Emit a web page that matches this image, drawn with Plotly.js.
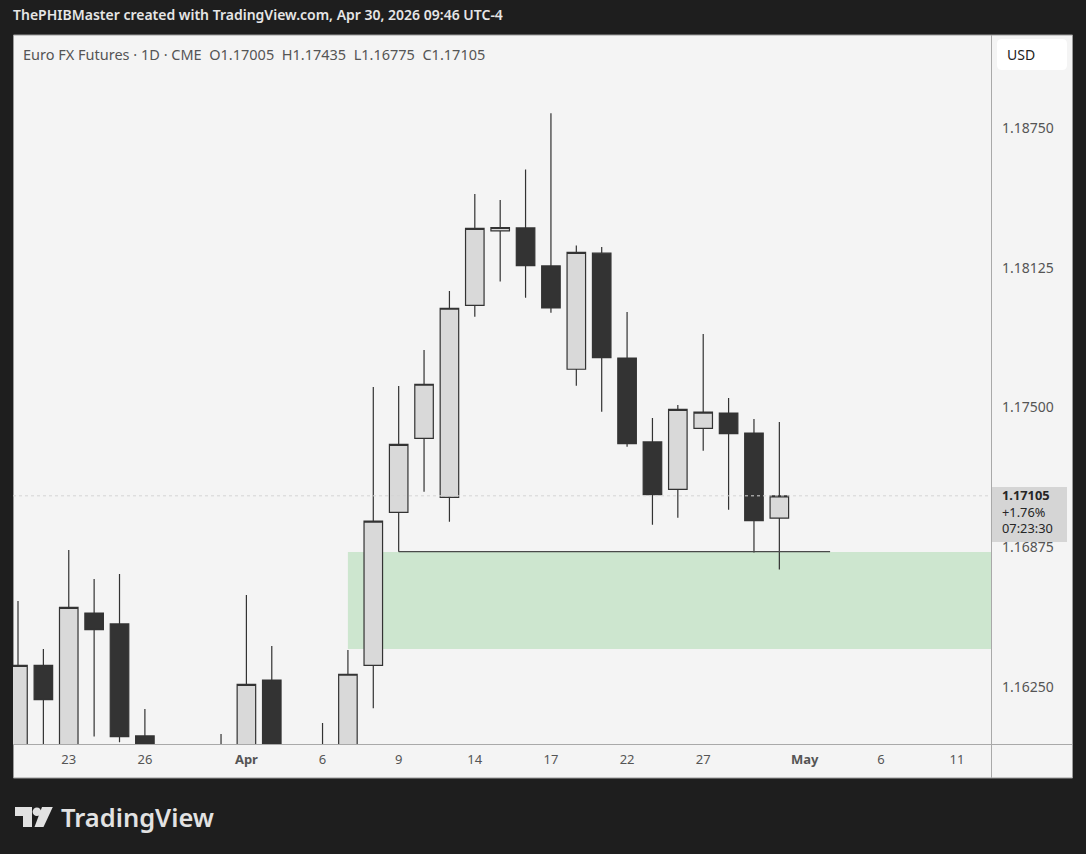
<!DOCTYPE html>
<html>
<head>
<meta charset="utf-8">
<script src="https://cdn.plot.ly/plotly-3.0.1.min.js"></script>
<style>
  html, body { margin: 0; padding: 0; background: #1e1e1e; }
  #chart { width: 1086px; height: 854px; }
</style>
</head>
<body>
<div id="chart"></div>
<script>
// ---------------- DATA ----------------
const dates = ['2026-03-19','2026-03-20','2026-03-23','2026-03-24','2026-03-25','2026-03-26','2026-03-27',
  '2026-03-30','2026-03-31','2026-04-01','2026-04-02','2026-04-03','2026-04-06','2026-04-07','2026-04-08',
  '2026-04-09','2026-04-10','2026-04-13','2026-04-14','2026-04-15','2026-04-16','2026-04-17','2026-04-20',
  '2026-04-21','2026-04-22','2026-04-23','2026-04-24','2026-04-27','2026-04-28','2026-04-29','2026-04-30'];
const openP  = [1.15880,1.16347,1.15920,1.16581,1.16532,1.16031,1.15820,1.15680,1.15800,1.15930,1.16281,1.15800,1.15900,1.15970,1.16347,
  1.17031,1.17362,1.17098,1.17957,1.18290,1.18303,1.18133,1.17671,1.18190,1.17721,1.17346,1.17134,1.17407,1.17475,1.17386,1.17005];
const highP  = [1.16635,1.16420,1.16863,1.16733,1.16755,1.16152,1.15960,1.15900,1.16040,1.16661,1.16433,1.15960,1.16089,1.16415,1.17592,
  1.17596,1.17757,1.18021,1.18455,1.18428,1.18565,1.18816,1.18225,1.18218,1.17927,1.17453,1.17511,1.17829,1.17542,1.17449,1.17435];
const lowP   = [1.15750,1.15850,1.15850,1.16028,1.16003,1.15700,1.15550,1.15500,1.15620,1.15850,1.15650,1.15720,1.15780,1.15900,1.16155,
  1.16855,1.17123,1.16989,1.17906,1.18063,1.17991,1.17924,1.17597,1.17481,1.17325,1.16976,1.17007,1.17307,1.17043,1.16851,1.16775];
const closeP = [1.16347,1.16193,1.16606,1.16506,1.16028,1.15820,1.15680,1.15800,1.15930,1.16262,1.15800,1.15900,1.15970,1.16307,1.16992,
  1.17335,1.17604,1.17944,1.18301,1.18305,1.18134,1.17946,1.18194,1.17723,1.17338,1.17110,1.17492,1.17479,1.17383,1.16994,1.17105];

const tickDates  = ['2026-03-23','2026-03-26','2026-04-01','2026-04-06','2026-04-09','2026-04-14','2026-04-17',
  '2026-04-22','2026-04-27','2026-05-01','2026-05-06','2026-05-11'];
const tickLabels = ['23','26','<b>Apr</b>','6','9','14','17','22','27','<b>May</b>','6','11'];

const priceTicks  = [1.16250, 1.16875, 1.17500, 1.18125, 1.18750];
const priceLabels = ['1.16250','1.16875','1.17500','1.18125','1.18750'];

// demand zone and support level
const zoneStartDate = '2026-04-07';
const zoneEndDate   = '2026-05-29';
const zoneTop = 1.16854, zoneBottom = 1.16420;
const levelStartDate = '2026-04-09', levelEndDate = '2026-05-04';
const levelPrice = 1.16855;
const lastPrice = 1.17105;

const headerText = 'ThePHIBMaster created with TradingView.com, Apr 30, 2026 09:46 UTC-4';
const legendText = 'Euro FX Futures · 1D · CME\u00a0\u00a0O1.17005\u00a0\u00a0H1.17435\u00a0\u00a0L1.16775\u00a0\u00a0C1.17105';
const priceBoxLines = ['1.17105', '+1.76%', '07:23:30'];

// ---------------- HELPERS ----------------
const baseDate = dates[0];
function tradingIndex(ds) {
  const a = new Date(baseDate + 'T00:00:00Z'), b = new Date(ds + 'T00:00:00Z');
  let n = 0, d = new Date(a);
  while (d < b) { d.setUTCDate(d.getUTCDate() + 1); const w = d.getUTCDay(); if (w !== 0 && w !== 6) n++; }
  return n;
}
const xIdx = dates.map(tradingIndex);
const tickIdx = tickDates.map(tradingIndex);

// pixel -> paper conversion for layout decoration
const L = 13, R = 991, T = 35, B = 744;
const px = x => (x - L) / (R - L);
const py = y => (B - y) / (B - T);

const FONT = 'Noto Sans, Open Sans, sans-serif';

const trace = {
  type: 'candlestick',
  x: xIdx, open: openP, high: highP, low: lowP, close: closeP,
  increasing: { line: { color: '#333333', width: 1.2 }, fillcolor: '#d9d9d9' },
  decreasing: { line: { color: '#333333', width: 1.2 }, fillcolor: '#333333' },
  whiskerwidth: 0,
  hoverinfo: 'skip'
};

function roundRect(x0, y0, x1, y1, r) {
  const X0 = px(x0), X1 = px(x1), Y0 = py(y0), Y1 = py(y1);
  const rx = r / (R - L), ry = r / (B - T);
  return `M ${X0 + rx},${Y0} L ${X1 - rx},${Y0} Q ${X1},${Y0} ${X1},${Y0 - ry} L ${X1},${Y1 + ry} Q ${X1},${Y1} ${X1 - rx},${Y1} L ${X0 + rx},${Y1} Q ${X0},${Y1} ${X0},${Y1 + ry} L ${X0},${Y0 - ry} Q ${X0},${Y0} ${X0 + rx},${Y0} Z`;
}
function poly(pts) {
  return 'M ' + pts.map(p => px(p[0]) + ',' + py(p[1])).join(' L ') + ' Z';
}

const shapes = [
  // chart frame
  { type: 'rect', xref: 'paper', yref: 'paper', x0: px(13.5), x1: px(1072.5), y0: py(778), y1: py(35),
    fillcolor: '#f4f4f4', line: { color: '#9b9b9b', width: 1 }, layer: 'below' },
  // separators
  { type: 'line', xref: 'paper', yref: 'paper', x0: px(991.5), x1: px(991.5), y0: py(35), y1: py(778),
    line: { color: '#a9a9a9', width: 1 }, layer: 'below' },
  { type: 'line', xref: 'paper', yref: 'paper', x0: px(13), x1: px(1072), y0: py(744.5), y1: py(744.5),
    line: { color: '#a9a9a9', width: 1 }, layer: 'below' },
  // demand zone
  { type: 'rect', xref: 'x', yref: 'y', x0: tradingIndex(zoneStartDate), x1: tradingIndex(zoneEndDate),
    y0: zoneBottom, y1: zoneTop, fillcolor: '#cde6cf', line: { width: 0 }, layer: 'below' },
  // support level
  { type: 'line', xref: 'x', yref: 'y', x0: tradingIndex(levelStartDate), x1: tradingIndex(levelEndDate),
    y0: levelPrice, y1: levelPrice, line: { color: '#4a4a4a', width: 1.3 }, layer: 'above' },
  // last price dotted line
  { type: 'line', xref: 'paper', yref: 'y', x0: 0, x1: 1, y0: lastPrice, y1: lastPrice,
    line: { color: '#d4d4d4', width: 1, dash: 'dot' }, layer: 'above' },
  // last price box
  { type: 'rect', xref: 'paper', yref: 'paper', x0: px(992), x1: px(1067), y0: py(542), y1: py(487),
    fillcolor: '#d5d5d5', line: { width: 0 }, layer: 'above' },
  // USD box
  { type: 'path', xref: 'paper', yref: 'paper', path: roundRect(997, 39, 1067, 70, 5),
    fillcolor: '#ffffff', line: { width: 0 }, layer: 'above' },
  // TradingView logo
  { type: 'path', xref: 'paper', yref: 'paper',
    path: poly([[15, 807], [32, 807], [32, 827], [23, 827], [23, 816], [15, 816]]),
    fillcolor: '#e2e2e2', line: { width: 0 }, layer: 'above' },
  { type: 'circle', xref: 'paper', yref: 'paper', x0: px(32.6), x1: px(41.2), y0: py(816), y1: py(807.4),
    fillcolor: '#e2e2e2', line: { width: 0 }, layer: 'above' },
  { type: 'path', xref: 'paper', yref: 'paper',
    path: poly([[42, 807], [52.8, 807], [43.5, 827], [34.5, 827]]),
    fillcolor: '#e2e2e2', line: { width: 0 }, layer: 'above' }
];

const annotations = [
  { xref: 'paper', yref: 'paper', x: px(11), y: py(14), xanchor: 'left', yanchor: 'middle', showarrow: false,
    text: headerText, font: { family: FONT, size: 14, color: '#e6e6e6', weight: 600 } },
  { xref: 'paper', yref: 'paper', x: px(21), y: py(54), xanchor: 'left', yanchor: 'middle', showarrow: false,
    text: legendText, font: { family: FONT, size: 14.5, color: '#555555' } },
  { xref: 'paper', yref: 'paper', x: px(1001), y: py(511.5), xanchor: 'left', yanchor: 'middle', showarrow: false,
    align: 'left', borderpad: 0,
    text: '<b>' + priceBoxLines[0] + '</b><br>' + priceBoxLines[1] + '<br>' + priceBoxLines[2],
    font: { family: FONT, size: 12.8, color: '#262626' } },
  { xref: 'paper', yref: 'paper', x: px(1021), y: py(55), xanchor: 'center', yanchor: 'middle', showarrow: false,
    text: 'USD', font: { family: FONT, size: 14, color: '#222222' } },
  { xref: 'paper', yref: 'paper', x: px(59), y: py(817), xanchor: 'left', yanchor: 'middle', showarrow: false,
    text: 'TradingView', font: { family: FONT, size: 25.5, color: '#e2e2e2', weight: 600 } }
];

const layout = {
  width: 1086, height: 854,
  margin: { l: L, r: 1086 - R, t: T, b: 854 - B, pad: 0 },
  paper_bgcolor: '#1e1e1e',
  plot_bgcolor: '#f4f4f4',
  showlegend: false,
  hovermode: false,
  dragmode: false,
  boxgap: 0.27,
  boxgroupgap: 0,
  xaxis: {
    type: 'linear', range: [-0.197, 38.34],
    tickmode: 'array', tickvals: tickIdx, ticktext: tickLabels,
    showgrid: false, zeroline: false, showline: false, ticks: '',
    ticklabelstandoff: 6,
    tickfont: { family: FONT, size: 13, color: '#555555' },
    rangeslider: { visible: false }, fixedrange: true
  },
  yaxis: {
    side: 'right', range: [1.15995, 1.19166],
    tickmode: 'array', tickvals: priceTicks, ticktext: priceLabels,
    showgrid: false, zeroline: false, showline: false, ticks: '',
    ticklabelstandoff: 10,
    tickfont: { family: FONT, size: 14, color: '#555555' }, fixedrange: true
  },
  shapes: shapes,
  annotations: annotations
};

Plotly.newPlot('chart', [trace], layout, { staticPlot: true, displayModeBar: false });
</script>
</body>
</html>
